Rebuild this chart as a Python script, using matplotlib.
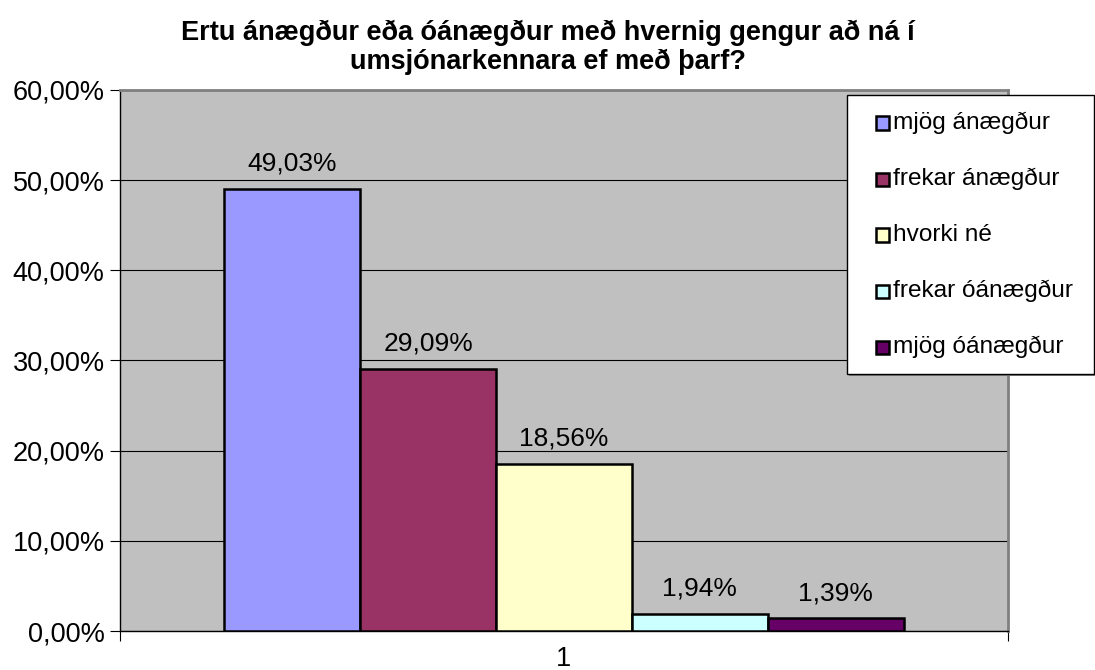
import numpy as np
import matplotlib.pyplot as plt
from matplotlib.patches import Rectangle

plt.rcParams['font.family'] = ['Liberation Sans', 'DejaVu Sans']

labels = ["mjög ánægður", "frekar ánægður", "hvorki né", "frekar óánægður", "mjög óánægður"]
values = [49.03, 29.09, 18.56, 1.94, 1.39]
colors = ["#9999ff", "#993366", "#ffffcc", "#ccffff", "#660066"]
category = ["1"]

fig = plt.figure(figsize=(10.95, 6.7), dpi=100)
ax = fig.add_axes([0.1096, 0.0582, 0.8109, 0.8075])
ax.set_facecolor("#c0c0c0")

w = 0.153
n = len(values)
offsets = (np.arange(n) - (n - 1) / 2) * w
for off, v, c, lab in zip(offsets, values, colors, labels):
    ax.bar(off, v, width=w, color=c, edgecolor="black", linewidth=1.8, label=lab, zorder=3)
    ax.text(off, v + 2.8, f"{v:.2f}%".replace(".", ","), ha="center", va="center",
            fontsize=19, zorder=4)

ax.set_xlim(-0.5, 0.5)
ax.set_ylim(0, 60)
yt = np.arange(0, 61, 10)
ax.set_yticks(yt)
ax.set_yticklabels([f"{t:.2f}%".replace(".", ",") for t in yt], fontsize=19.5)
ax.yaxis.grid(True, color="black", linewidth=0.8, zorder=0)
ax.set_axisbelow(True)

ax.set_xticks([-0.5, 0.5])
ax.set_xticklabels(["", ""])
ax.set_xticks([0], minor=True)
ax.set_xticklabels(category, minor=True, fontsize=19.5)
ax.tick_params(axis="x", which="minor", length=0, pad=11)
ax.tick_params(axis="x", which="major", length=7, direction="out")
ax.tick_params(axis="y", length=7, direction="out", pad=4)

for s in ["left", "bottom"]:
    ax.spines[s].set_color("black")
    ax.spines[s].set_linewidth(1)
for s in ["top", "right"]:
    ax.spines[s].set_color("#808080")
    ax.spines[s].set_linewidth(2)

fig.text(0.5, 1 - 33 / 670, "Ertu ánægður eða óánægður með hvernig gengur að ná í",
         fontsize=19.5, fontweight="bold", ha="center", va="center")
fig.text(0.5, 1 - 62 / 670, "umsjónarkennara ef með þarf?",
         fontsize=19.5, fontweight="bold", ha="center", va="center")

# legend box
lx0, ly0, lx1, ly1 = 847 / 1095, 1 - 374 / 670, 1094 / 1095, 1 - 95 / 670
fig.patches.append(Rectangle((lx0 + 2 / 1095, ly0 - 2 / 670), lx1 - lx0, ly1 - ly0,
                             transform=fig.transFigure, facecolor="#808080", edgecolor="none", zorder=5))
fig.patches.append(Rectangle((lx0, ly0), lx1 - lx0, ly1 - ly0,
                             transform=fig.transFigure, facecolor="white", edgecolor="black",
                             linewidth=1, zorder=6))
for i, (lab, c) in enumerate(zip(labels, colors)):
    yc = 1 - (123 + i * 56) / 670
    fig.patches.append(Rectangle((876 / 1095, yc - 6.5 / 670), 13 / 1095, 13 / 670,
                                 transform=fig.transFigure, facecolor=c, edgecolor="black",
                                 linewidth=1.8, zorder=7))
    fig.text(893 / 1095, yc, lab, fontsize=17.6, va="center", ha="left", zorder=8)

fig.savefig("out.png", dpi=100)
